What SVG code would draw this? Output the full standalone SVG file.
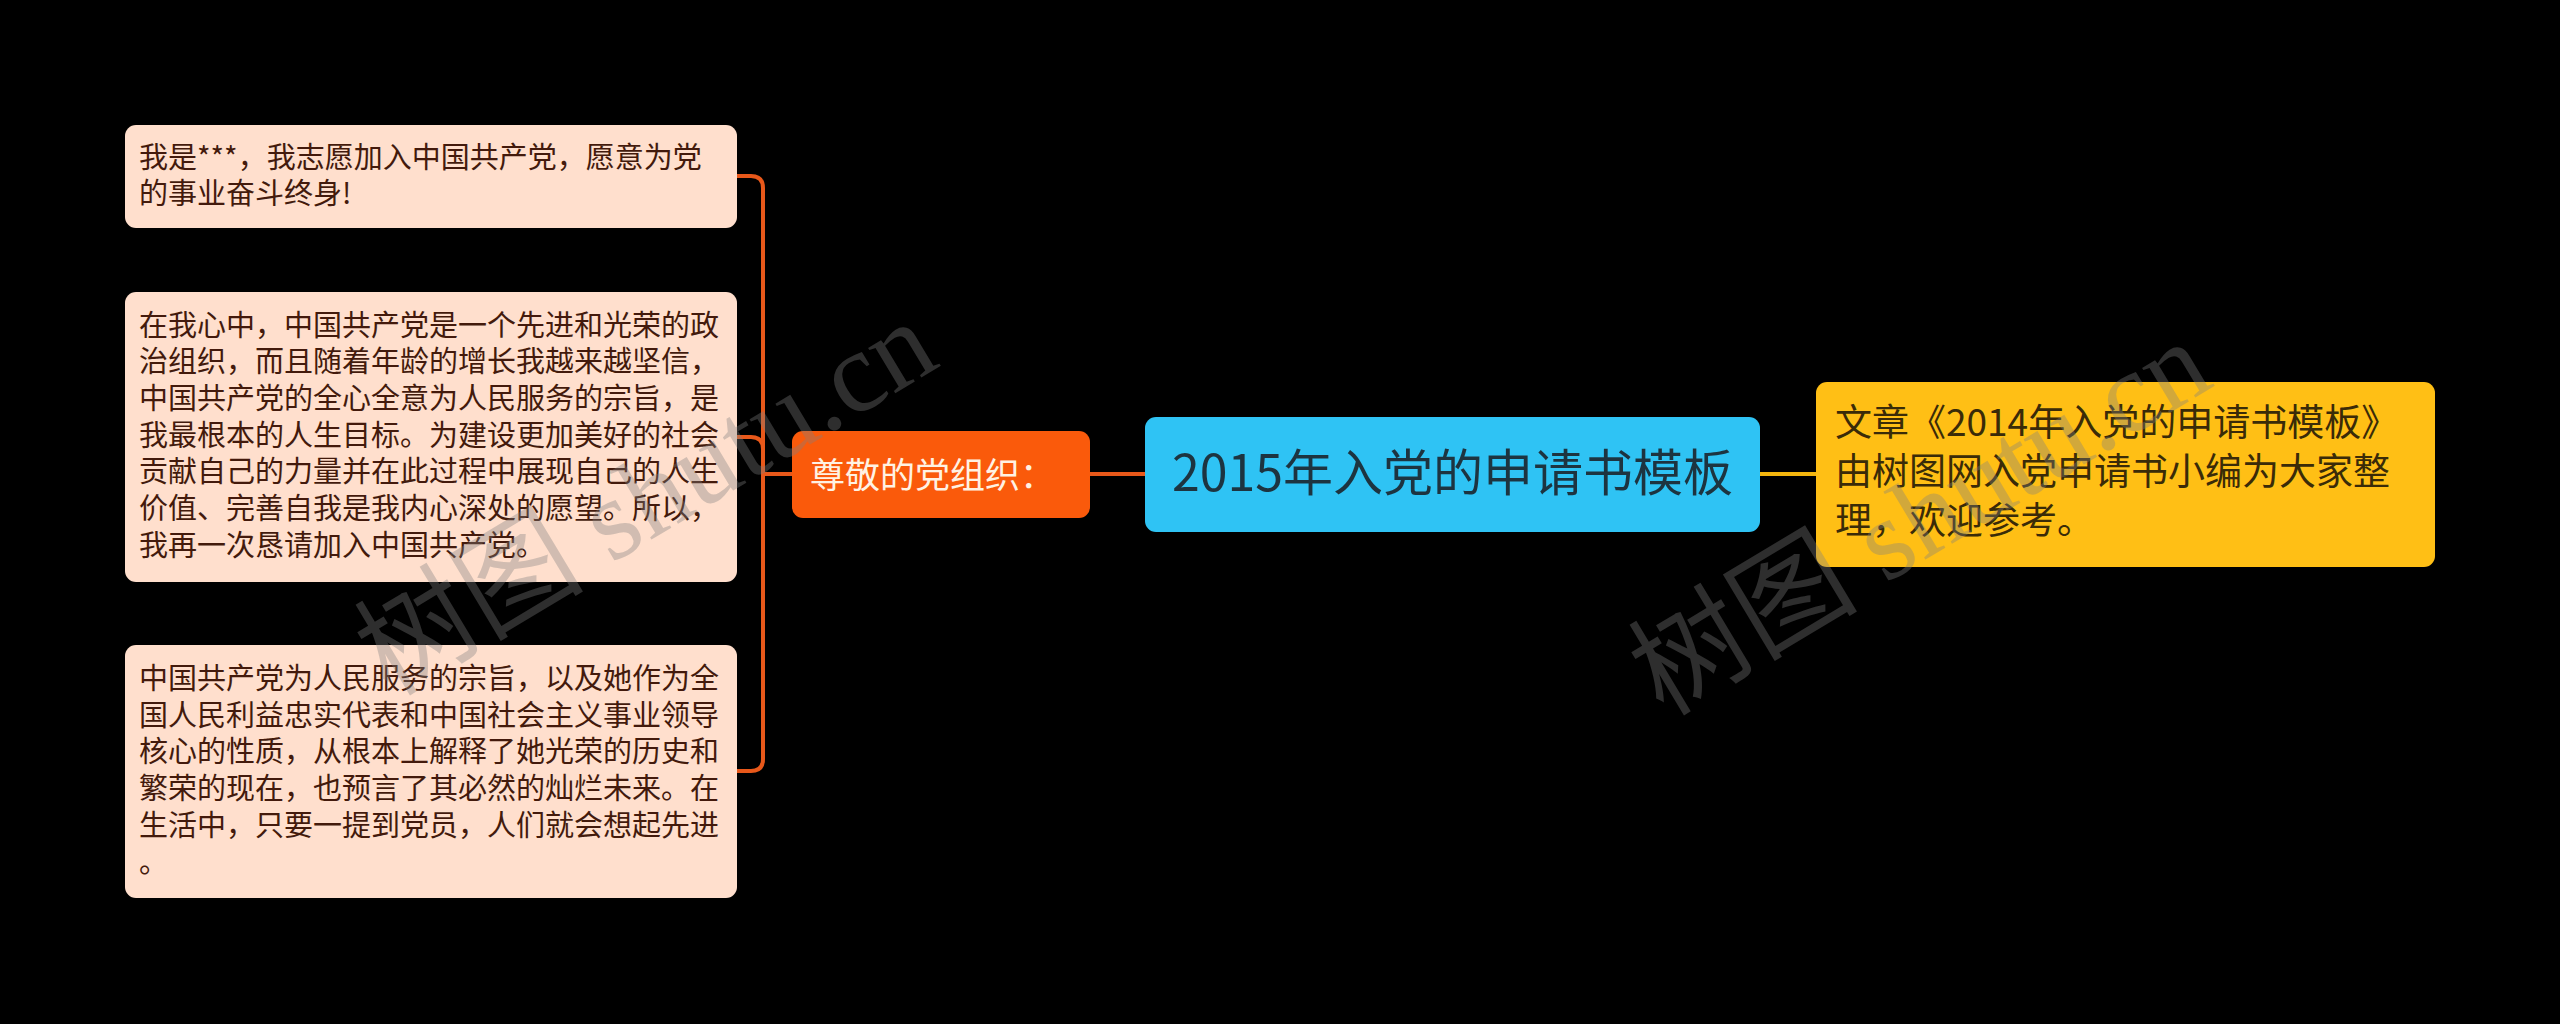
<svg xmlns="http://www.w3.org/2000/svg" width="2560" height="1024" viewBox="0 0 2560 1024">
<style>
.leaf rect{fill:#ffdfcd}
.leaf text{font-family:"Noto Sans CJK SC","Noto Sans",sans-serif;font-size:29px;fill:#431a0c}
.conn path{fill:none;stroke-width:4;stroke-linecap:round}
.wm{font-family:"Liberation Serif","Noto Sans CJK SC",serif;font-size:115px;fill:#808080;fill-opacity:0.36}
</style>
<rect x="0" y="0" width="2560" height="1024" fill="#000000"/>
<g id="connectors" class="conn">
<path d="M763 474 L763 188 Q763 176 751 176 L737 176" stroke="#e8581a"/>
<path d="M763 474 L763 449 Q763 437 751 437 L737 437" stroke="#e8581a"/>
<path d="M763 474 L763 759 Q763 771 751 771 L737 771" stroke="#e8581a"/>
<path d="M763 474 L792 474" stroke="#e8581a"/>
<path d="M1090 474 L1145 474" stroke="#e8581a"/>
<path d="M1760 474 L1816 474" stroke="#f4b60e"/>
</g>
<g id="node-root">
<rect x="1145" y="417" width="615" height="115" rx="11" fill="#2fc3f4"/>
<text x="1172" y="491" font-family="'Noto Sans CJK SC','Noto Sans',sans-serif" font-size="50" fill="#1d3440">2015年入党的申请书模板</text>
</g>
<g id="node-main">
<rect x="792" y="431" width="298" height="87" rx="11" fill="#fa5a0b"/>
<text x="810" y="488" font-family="'Noto Sans CJK SC','Noto Sans',sans-serif" font-size="35" fill="#fff2e3">尊敬的党组织：</text>
</g>
<g id="node-note">
<rect x="1816" y="382" width="619" height="185" rx="11" fill="#ffbf15"/>
<text font-family="'Noto Sans CJK SC','Noto Sans',sans-serif" font-size="37" fill="#3a2b08">
<tspan x="1835" y="436">文章《2014年入党的申请书模板》</tspan>
<tspan x="1835" y="485">由树图网入党申请书小编为大家整</tspan>
<tspan x="1835" y="534">理，欢迎参考。</tspan>
</text>
</g>
<g id="leaf-1" class="leaf">
<rect x="125" y="125" width="612" height="103" rx="11"/>
<text><tspan x="139" y="168">我是***，我志愿加入中国共产党，愿意为党</tspan><tspan x="139" y="204">的事业奋斗终身!</tspan></text>
</g>
<g id="leaf-2" class="leaf">
<rect x="125" y="292" width="612" height="290" rx="11"/>
<text>
<tspan x="139" y="335.5">在我心中，中国共产党是一个先进和光荣的政</tspan>
<tspan x="139" y="372.2">治组织，而且随着年龄的增长我越来越坚信，</tspan>
<tspan x="139" y="408.9">中国共产党的全心全意为人民服务的宗旨，是</tspan>
<tspan x="139" y="445.6">我最根本的人生目标。为建设更加美好的社会</tspan>
<tspan x="139" y="482.3">贡献自己的力量并在此过程中展现自己的人生</tspan>
<tspan x="139" y="519">价值、完善自我是我内心深处的愿望。所以，</tspan>
<tspan x="139" y="555.7">我再一次恳请加入中国共产党。</tspan>
</text>
</g>
<g id="leaf-3" class="leaf">
<rect x="125" y="645" width="612" height="253" rx="11"/>
<text>
<tspan x="139" y="689">中国共产党为人民服务的宗旨，以及她作为全</tspan>
<tspan x="139" y="725.7">国人民利益忠实代表和中国社会主义事业领导</tspan>
<tspan x="139" y="762.4">核心的性质，从根本上解释了她光荣的历史和</tspan>
<tspan x="139" y="799.1">繁荣的现在，也预言了其必然的灿烂未来。在</tspan>
<tspan x="139" y="835.8">生活中，只要一提到党员，人们就会想起先进</tspan>
<tspan x="139" y="872.5">。</tspan>
</text>
</g>
<g id="watermarks">
<text class="wm" x="646" y="498" text-anchor="middle" dominant-baseline="central" transform="rotate(-31 646 498)">树图 shutu.cn</text>
<text class="wm" x="1920" y="518" text-anchor="middle" dominant-baseline="central" transform="rotate(-31 1920 518)">树图 shutu.cn</text>
</g>
</svg>
